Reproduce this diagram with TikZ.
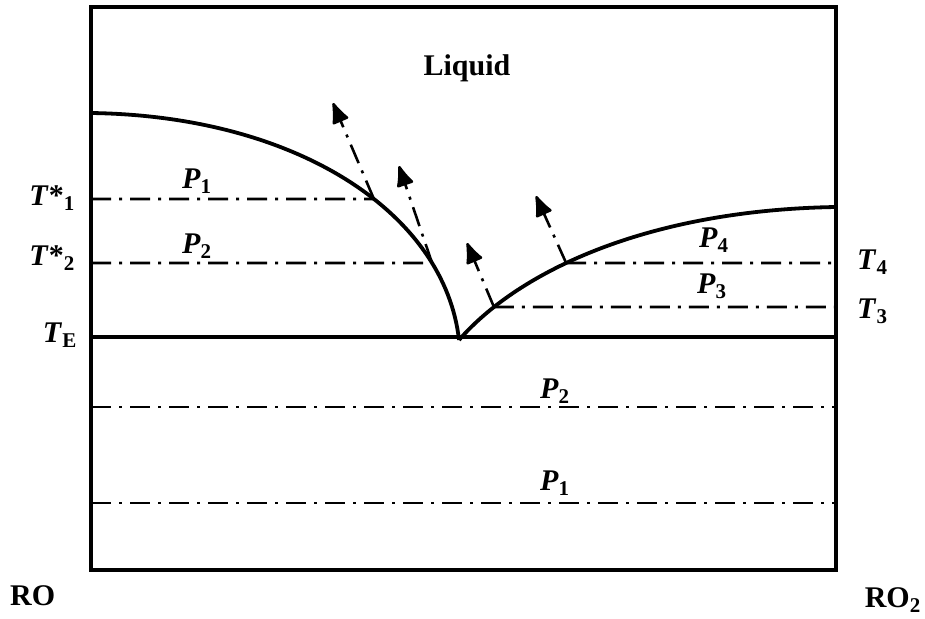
\documentclass[tikz,border=0pt]{standalone}
\usepackage{fontspec}
\setmainfont{Liberation Serif}
\usetikzlibrary{arrows.meta,intersections}
\begin{document}
\begin{tikzpicture}[x=1pt,y=-1pt,
  frame/.style={line width=3.8pt},
  heavy/.style={line width=3.8pt},
  dd/.style={line width=2.6pt, dash pattern=on 20pt off 8pt on 3pt off 8pt},
  arr/.style={dd, -{Latex[length=24pt,width=19pt,round=false]}},
  lab/.style={font=\fontsize{30}{34}\selectfont\bfseries, inner sep=0pt},
]
\useasboundingbox (0,0) rectangle (925,618);
% frame corners
\coordinate (TL) at (91,7);
\coordinate (BR) at (836,570);
\draw[frame] (TL) rectangle (BR);
% end points of the horizontal lines
\coordinate (L1) at (91,199);
\coordinate (L2) at (91,263);
\coordinate (LE) at (91,337);
\coordinate (RE) at (836,337);
\coordinate (R4) at (836,263);
\coordinate (R3) at (836,307);
\coordinate (LP2) at (91,407);
\coordinate (RP2) at (836,407);
\coordinate (LP1) at (91,503);
\coordinate (RP1) at (836,503);
\coordinate (Eu) at (459,340);
\coordinate (Lstart) at (91,113);
\coordinate (Rend) at (836,207);
% invisible guide paths
\path[name path=h1] (L1) -- (836,199);
\path[name path=h2] (L2) -- (R4);
\path[name path=h3] (91,307) -- (R3);
% liquidus curves
\draw[heavy,name path=lc] (Lstart) .. controls (300,116) and (445,215) .. (Eu);
\draw[heavy,name path=rc] (Eu) .. controls (520,270) and (650,210) .. (Rend);
\path[name intersections={of=lc and h1,by=a1}];
\path[name intersections={of=lc and h2,by=a2}];
\path[name intersections={of=rc and h2,by=b2}];
\path[name intersections={of=rc and h3,by=b3}];
% eutectic line
\draw[heavy] (LE) -- (RE);
% dash-dot isotherms
\draw[dd] (L1) -- (a1);
\draw[dd] (L2) -- (a2);
\draw[dd] (b2) -- (R4);
\draw[dd] (b3) -- (R3);
\draw[dd] (LP2) -- (RP2);
\draw[dd] (LP1) -- (RP1);
% arrows
\coordinate (t1) at (333,103);
\coordinate (t2) at (399,166);
\coordinate (t3) at (467,243);
\coordinate (t4) at (536,196);
\draw[arr] (a1) -- (t1);
\draw[arr] (a2) -- (t2);
\draw[arr] (b3) -- (t3);
\draw[arr] (b2) -- (t4);
% labels
\node[lab,anchor=base] (liq) at (467,75) {Liquid};
\node[lab,anchor=base west] (p1u) at (182,188) {\textit{P}\textsubscript{1}};
\node[lab,anchor=base west] (p2u) at (182,253) {\textit{P}\textsubscript{2}};
\node[lab,anchor=base west] (p4) at (699,247) {\textit{P}\textsubscript{4}};
\node[lab,anchor=base west] (p3) at (697,293) {\textit{P}\textsubscript{3}};
\node[lab,anchor=base west] (p2l) at (540,398) {\textit{P}\textsubscript{2}};
\node[lab,anchor=base west] (p1l) at (540,490) {\textit{P}\textsubscript{1}};
\node[lab,anchor=base east] (ts1) at (75,205) {\textit{T}*\textsubscript{1}};
\node[lab,anchor=base east] (ts2) at (75,265) {\textit{T}*\textsubscript{2}};
\node[lab,anchor=base east] (te) at (77,342) {\textit{T}\textsubscript{E}};
\node[lab,anchor=base west] (t4l) at (857,269) {\textit{T}\textsubscript{4}};
\node[lab,anchor=base west] (t3l) at (857,318) {\textit{T}\textsubscript{3}};
\node[lab,anchor=base west] (ro) at (10,605) {RO};
\node[lab,anchor=base east] (ro2) at (921,607) {RO\textsubscript{2}};
\end{tikzpicture}
\end{document}
